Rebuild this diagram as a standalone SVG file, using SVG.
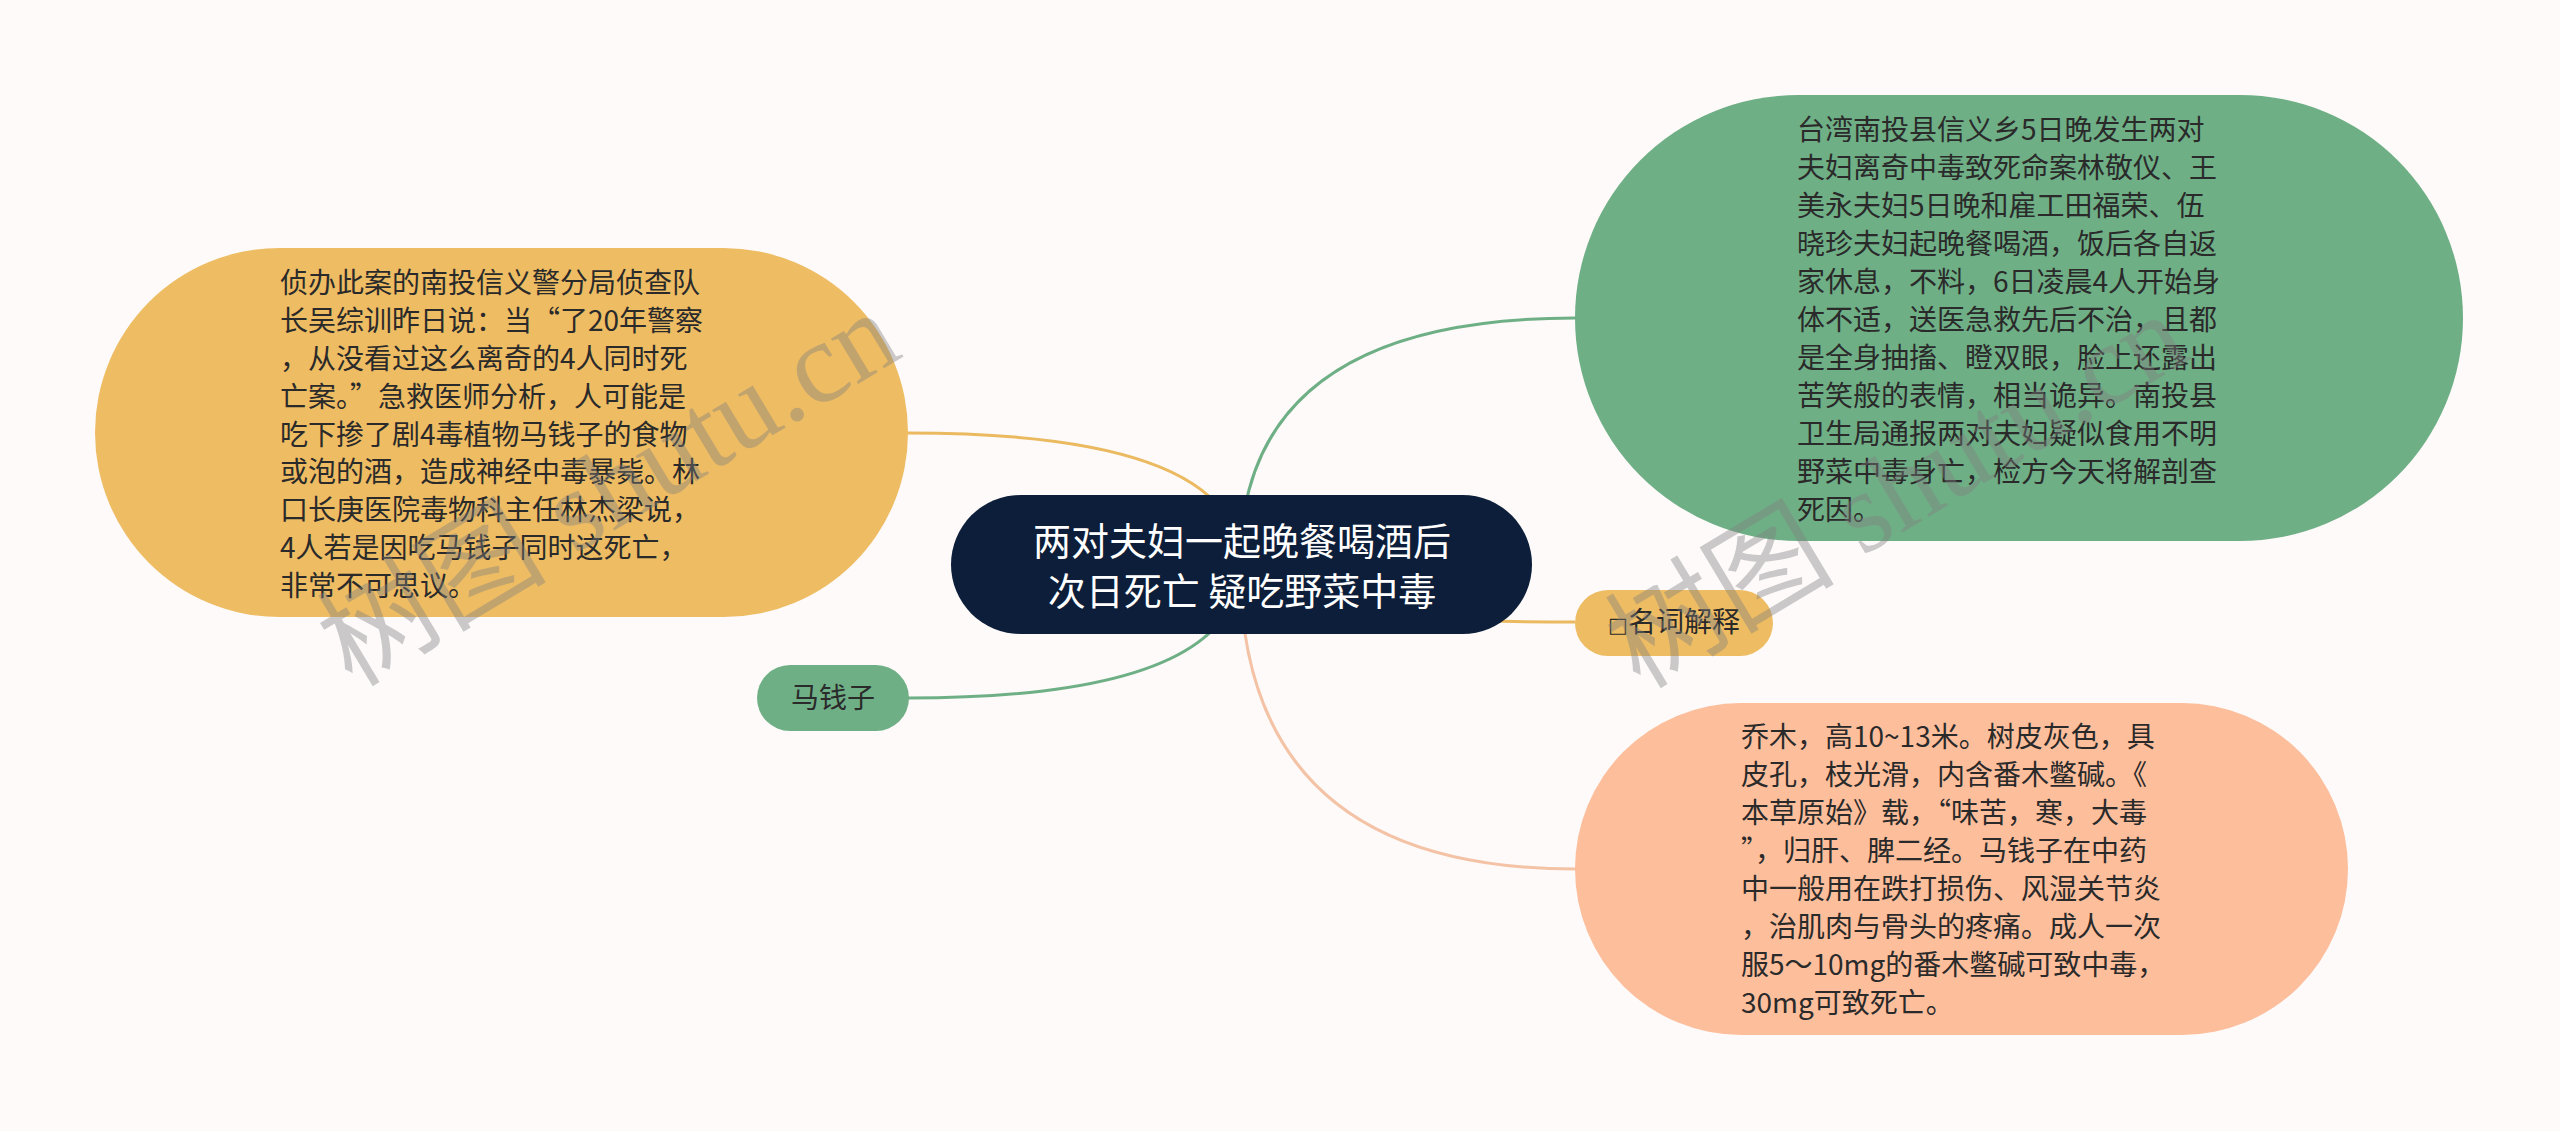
<svg xmlns="http://www.w3.org/2000/svg" width="2560" height="1131" viewBox="0 0 2560 1131">
<style>
.t{font-family:"Noto Sans CJK SC","Noto Sans",sans-serif;font-size:28px;fill:#2a2a2a}
.c{text-anchor:middle}
.root{font-family:"Noto Sans CJK SC","Noto Sans",sans-serif;font-size:38px;fill:#ffffff;text-anchor:middle}
.wm{font-family:"Liberation Serif","Noto Sans CJK SC",serif;font-size:115px;fill:#808080;opacity:0.4}
.ln{fill:none;stroke-width:3}
</style>
<rect x="0" y="0" width="2560" height="1131" fill="#fdfaf9"/>
<g id="connectors">
<path class="ln" stroke="#ebb95f" d="M1240,564 Q1240,433 908,433"/>
<path class="ln" stroke="#6faf86" d="M1240,564 Q1240,318 1575,318"/>
<path class="ln" stroke="#6faf86" d="M1240,564 Q1240,698 908,698"/>
<path class="ln" stroke="#ebb95f" d="M1240,564 Q1240,622 1575,622"/>
<path class="ln" stroke="#f4c3a6" d="M1240,564 Q1240,869 1575,869"/>
</g>
<g id="root">
<rect x="951" y="495" width="581" height="139" rx="69.5" fill="#0c1e39"/>
<text class="root" x="1242" y="555">两对夫妇一起晚餐喝酒后</text>
<text class="root" x="1242" y="605">次日死亡 疑吃野菜中毒</text>
</g>
<g id="node-left">
<rect x="95" y="248" width="813" height="369" rx="184.5" fill="#eebc63"/>
<text class="t" x="280" y="293">侦办此案的南投信义警分局侦查队</text>
<text class="t" x="280" y="331">长吴综训昨日说：当“了20年警察</text>
<text class="t" x="280" y="369">，从没看过这么离奇的4人同时死</text>
<text class="t" x="280" y="407">亡案。”急救医师分析，人可能是</text>
<text class="t" x="280" y="445">吃下掺了剧4毒植物马钱子的食物</text>
<text class="t" x="280" y="482">或泡的酒，造成神经中毒暴毙。林</text>
<text class="t" x="280" y="520">口长庚医院毒物科主任林杰梁说，</text>
<text class="t" x="280" y="558">4人若是因吃马钱子同时这死亡，</text>
<text class="t" x="280" y="596">非常不可思议。</text>
</g>
<g id="node-maqianzi">
<rect x="757" y="665" width="152" height="66" rx="33" fill="#6faf86"/>
<text class="t c" x="833" y="708">马钱子</text>
</g>
<g id="node-green">
<rect x="1575" y="95" width="888" height="446" rx="223" fill="#6faf86"/>
<text class="t" x="1797" y="140">台湾南投县信义乡5日晚发生两对</text>
<text class="t" x="1797" y="178">夫妇离奇中毒致死命案林敬仪、王</text>
<text class="t" x="1797" y="216">美永夫妇5日晚和雇工田福荣、伍</text>
<text class="t" x="1797" y="254">晓珍夫妇起晚餐喝酒，饭后各自返</text>
<text class="t" x="1797" y="292">家休息，不料，6日凌晨4人开始身</text>
<text class="t" x="1797" y="330">体不适，送医急救先后不治，且都</text>
<text class="t" x="1797" y="368">是全身抽搐、瞪双眼，脸上还露出</text>
<text class="t" x="1797" y="406">苦笑般的表情，相当诡异。南投县</text>
<text class="t" x="1797" y="444">卫生局通报两对夫妇疑似食用不明</text>
<text class="t" x="1797" y="482">野菜中毒身亡，检方今天将解剖查</text>
<text class="t" x="1797" y="520">死因。</text>
</g>
<g id="node-term">
<rect x="1575" y="590" width="198" height="66" rx="33" fill="#eebc63"/>
<text class="t c" x="1674" y="632"><tspan style="font-family:'DejaVu Sans',sans-serif;font-size:21px">□</tspan>名词解释</text>
</g>
<g id="node-peach">
<rect x="1575" y="703" width="773" height="332" rx="166" fill="#fdbe9c"/>
<text class="t" x="1741" y="747">乔木，高10~13米。树皮灰色，具</text>
<text class="t" x="1741" y="785">皮孔，枝光滑，内含番木鳖碱。《</text>
<text class="t" x="1741" y="823">本草原始》载，“味苦，寒，大毒</text>
<text class="t" x="1741" y="861">”，归肝、脾二经。马钱子在中药</text>
<text class="t" x="1741" y="899">中一般用在跌打损伤、风湿关节炎</text>
<text class="t" x="1741" y="937">，治肌肉与骨头的疼痛。成人一次</text>
<text class="t" x="1741" y="975">服5～10mg的番木鳖碱可致中毒，</text>
<text class="t" x="1741" y="1013">30mg可致死亡。</text>
</g>
<g id="watermarks">
<text class="wm" x="352" y="688" transform="rotate(-31 352 688)">树图 shutu.cn</text>
<text class="wm" x="1640" y="690" transform="rotate(-31 1640 690)">树图 shutu.cn</text>
</g>
</svg>
